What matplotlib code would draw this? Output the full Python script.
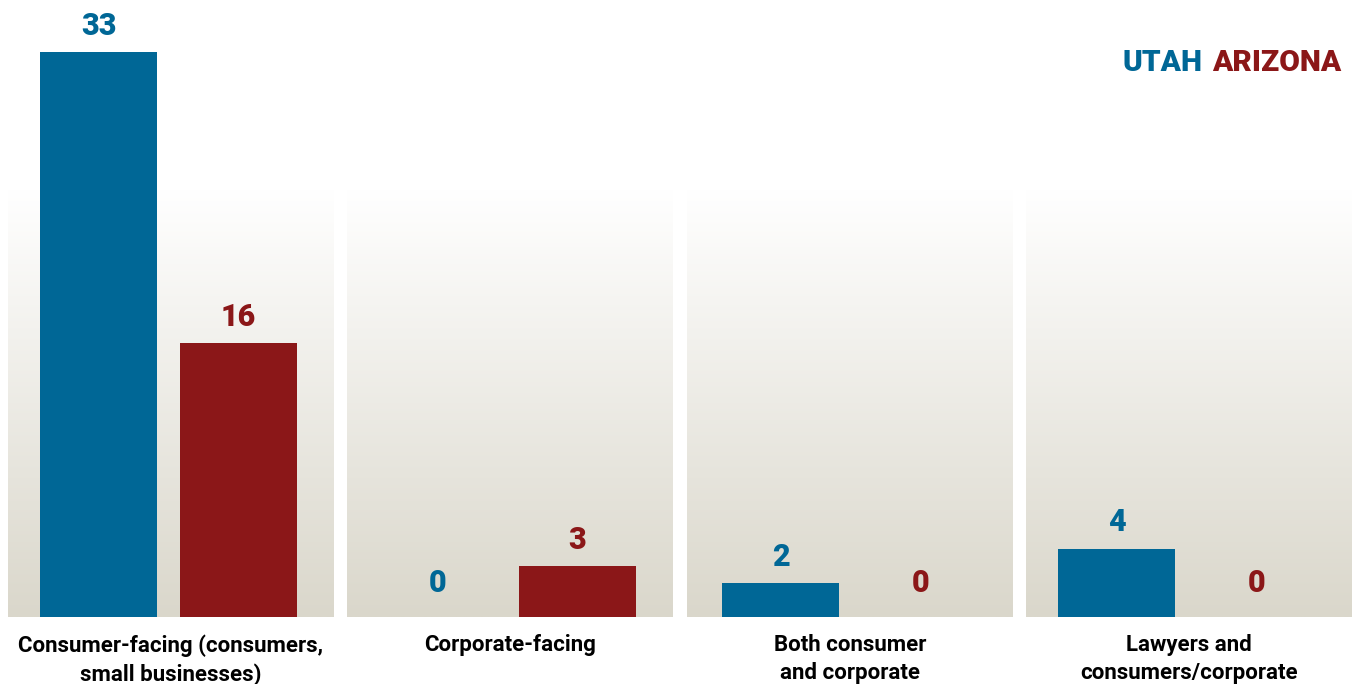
import matplotlib.pyplot as plt
import numpy as np
from matplotlib.colors import LinearSegmentedColormap

plt.rcParams['font.family'] = ['Roboto', 'DejaVu Sans']

categories = ["Consumer-facing (consumers,\nsmall businesses)", "Corporate-facing",
              "Both consumer\nand corporate", "Lawyers and\nconsumers/corporate"]
utah = [33, 0, 2, 4]
arizona = [16, 3, 0, 0]

BLUE = "#006796"
RED = "#8b1718"

W, H = 1354, 684
fig = plt.figure(figsize=(W / 100, H / 100), dpi=100)

panel_lefts = [8, 347, 687, 1026]
bar_shift = [0, 0, 3, 0]   # third panel's bars sit a little to the right
panel_w = 326
base_y = 617
top_y = 10
px_per_unit = 17.12
ymax = (base_y - top_y) / px_per_unit
grad_top = (base_y - 190) / px_per_unit

cmap = LinearSegmentedColormap.from_list("bg", ["#dad7cb", "#ffffff"])
grad = np.linspace(0, 1, 256).reshape(-1, 1)

for i, left in enumerate(panel_lefts):
    ax = fig.add_axes([left / W, (H - base_y) / H, panel_w / W, (base_y - top_y) / H])
    ax.set_xlim(0, 1)
    ax.set_ylim(0, ymax)
    ax.imshow(grad, extent=[0, 1, 0, grad_top], origin="lower", cmap=cmap,
              aspect="auto", zorder=0)
    s = bar_shift[i] / panel_w
    xs = [0.278 + s, 0.707 + s]
    vals = [utah[i], arizona[i]]
    cols = [BLUE, RED]
    ax.bar(xs, vals, width=0.359, color=cols, zorder=2)
    for x, v, c in zip(xs, vals, cols):
        ax.annotate(str(v), (x, v), xytext=(0, 8 if v else 14), textcoords="offset points",
                    ha="center", va="bottom", fontsize=22, fontweight="black", color=c)
    ax.text(0.5, -0.028, categories[i], transform=ax.transAxes, ha="center", va="top",
            fontsize=16, fontweight="bold", color="black", linespacing=1.38)
    ax.axis("off")

t = fig.text(1341 / W, 1 - 63 / H, "ARIZONA", ha="right", va="center",
             fontsize=21.5, fontweight="black", color=RED)
fig.canvas.draw()
bb = t.get_window_extent()
fig.text((bb.x0 - 9) / W, 1 - 63 / H, "UTAH", ha="right", va="center",
         fontsize=21.5, fontweight="black", color=BLUE)

fig.savefig("out.png", dpi=100)
